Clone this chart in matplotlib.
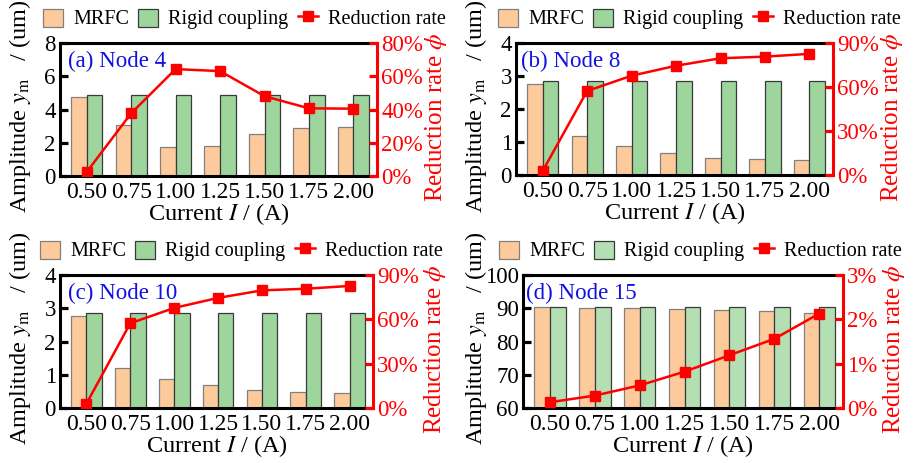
import matplotlib
matplotlib.use("Agg")
import matplotlib.pyplot as plt
from matplotlib.patches import Patch
from matplotlib.lines import Line2D
from matplotlib.ticker import FuncFormatter
import numpy as np

plt.rcParams['font.family'] = ['Liberation Serif', 'DejaVu Serif']
plt.rcParams['mathtext.fontset'] = 'stix'

currents = ["0.50", "0.75", "1.00", "1.25", "1.50", "1.75", "2.00"]

mrfc_a = [4.78, 3.04, 1.75, 1.79, 2.52, 2.88, 2.92]
rigid_a = [4.87, 4.87, 4.87, 4.87, 4.87, 4.87, 4.87]
rate_a = [0.024, 0.377, 0.643, 0.631, 0.48, 0.407, 0.405]

mrfc_b = [2.77, 1.18, 0.87, 0.67, 0.53, 0.48, 0.44]
rigid_b = [2.86, 2.86, 2.86, 2.86, 2.86, 2.86, 2.86]
rate_b = [0.028, 0.573, 0.677, 0.745, 0.796, 0.807, 0.826]

mrfc_c = [2.78, 1.20, 0.88, 0.68, 0.53, 0.48, 0.45]
rigid_c = [2.87, 2.87, 2.87, 2.87, 2.87, 2.87, 2.87]
rate_c = [0.028, 0.573, 0.677, 0.745, 0.796, 0.807, 0.826]

mrfc_d = [90.4, 90.2, 90.0, 89.8, 89.5, 89.1, 88.6]
rigid_d = [90.5, 90.5, 90.5, 90.5, 90.5, 90.5, 90.5]
rate_d = [0.0013, 0.0028, 0.0051, 0.0082, 0.0119, 0.0156, 0.0213]

titles = ["(a) Node 4", "(b) Node 8", "(c) Node 10", "(d) Node 15"]

panels = [
    dict(mrfc=mrfc_a, rigid=rigid_a, rate=rate_a, ylim=(0, 8), yticks=[0, 2, 4, 6, 8],
         rlim=(0, 0.8), rticks=[0, 0.2, 0.4, 0.6, 0.8], green='#9dd59d',
         rect=(60, 43, 377, 176), leg=-17, tx=8, yl=-27, yr=46),
    dict(mrfc=mrfc_b, rigid=rigid_b, rate=rate_b, ylim=(0, 4), yticks=[0, 1, 2, 3, 4],
         rlim=(0, 0.9), rticks=[0, 0.3, 0.6, 0.9], green='#9dd59d',
         rect=(516, 43, 833, 175), leg=-18, tx=5, yl=-27, yr=46),
    dict(mrfc=mrfc_c, rigid=rigid_c, rate=rate_c, ylim=(0, 4), yticks=[0, 1, 2, 3, 4],
         rlim=(0, 0.9), rticks=[0, 0.3, 0.6, 0.9], green='#9dd59d',
         rect=(60, 275, 373, 408), leg=-20, tx=8, yl=-27, yr=49),
    dict(mrfc=mrfc_d, rigid=rigid_d, rate=rate_d, ylim=(60, 100), yticks=[60, 70, 80, 90, 100],
         rlim=(0, 0.03), rticks=[0, 0.01, 0.02, 0.03], green='#b3dfb3',
         rect=(523, 275, 843, 408), leg=-24, tx=3, yl=-34, yr=38),
]

W, H = 916, 463
fig = plt.figure(figsize=(W / 100, H / 100), dpi=100)

TFS = 17
XLABFS = 17.5
YLABFS = 17.5
RLABFS = 18
LFS = 14.5
TITFS = 16.5
SPW = 2.2
orange = '#fdca9b'

for i, p in enumerate(panels):
    l, t, r, b = p['rect']
    aw, ah = r - l, b - t
    ax = fig.add_axes([l / W, 1 - b / H, aw / W, ah / H])
    x = np.arange(len(currents))
    w = 0.35
    ax.bar(x - w / 2, p['mrfc'], w, color=orange, edgecolor='#808080', linewidth=0.9, zorder=2)
    ax.bar(x + w / 2, p['rigid'], w, color=p['green'], edgecolor='#3a3a3a', linewidth=0.9, zorder=2)
    ax.set_xlim(-0.6, 6.53)
    ax.set_ylim(*p['ylim'])
    ax.set_yticks(p['yticks'])
    ax.set_xticks(x)
    ax.set_xticklabels(currents)
    ax.tick_params(axis='both', direction='in', length=5.5, width=2.3, labelsize=TFS, color='black')
    ax.tick_params(axis='x', pad=4)
    ax.tick_params(axis='y', pad=3, labelsize=16.5)
    for s in ['left', 'top', 'bottom']:
        ax.spines[s].set_linewidth(SPW)
    ax.spines['right'].set_visible(False)
    ax.set_xlabel("Current $I$ / (A)", fontsize=XLABFS)
    ax.xaxis.set_label_coords(0.5, -25 / ah)
    ax.set_ylabel("Amplitude $y_{\\mathrm{m}}\\quad$/ (um)", fontsize=YLABFS)
    ax.yaxis.set_label_coords(p['yl'] / aw, 0.52)
    ax.text(p['tx'] / aw, 0.86, titles[i], transform=ax.transAxes, color='#1010e0',
            fontsize=TITFS, ha='left', va='center')

    ax2 = ax.twinx()
    ax2.plot(x, p['rate'], color='#ff0000', lw=1.8, marker='s', markersize=7, zorder=5)
    ax2.set_ylim(*p['rlim'])
    ax2.set_yticks(p['rticks'])
    ax2.yaxis.set_major_formatter(FuncFormatter(lambda v, pos: f"{v * 100:.0f}%"))
    ax2.tick_params(axis='y', direction='in', length=5.5, width=2.3, labelsize=16.5,
                    color='#ff0000', labelcolor='#ff0000', pad=3)
    for s in ['left', 'top', 'bottom']:
        ax2.spines[s].set_visible(False)
    ax2.spines['right'].set_color('#ff0000')
    ax2.spines['right'].set_linewidth(SPW)
    ax2.set_ylabel("Reduction rate $\\phi$", fontsize=RLABFS, color='#ff0000')
    ax2.yaxis.set_label_coords(1 + p['yr'] / aw, 0.44)

    handles = [Patch(facecolor=orange, edgecolor='#808080', linewidth=0.9),
               Patch(facecolor=p['green'], edgecolor='#3a3a3a', linewidth=0.9),
               Line2D([0], [0], color='#ff0000', lw=1.8, marker='s', markersize=7)]
    ax.legend(handles, ["MRFC", "Rigid coupling", "Reduction rate"], loc='center left',
              bbox_to_anchor=(p['leg'] / aw, 1 + 24 / ah), ncol=3, frameon=False,
              fontsize=LFS, handlelength=1.0, handleheight=1.0, handletextpad=0.5,
              columnspacing=0.45, borderaxespad=0, borderpad=0)

fig.savefig("out.png", dpi=100)
